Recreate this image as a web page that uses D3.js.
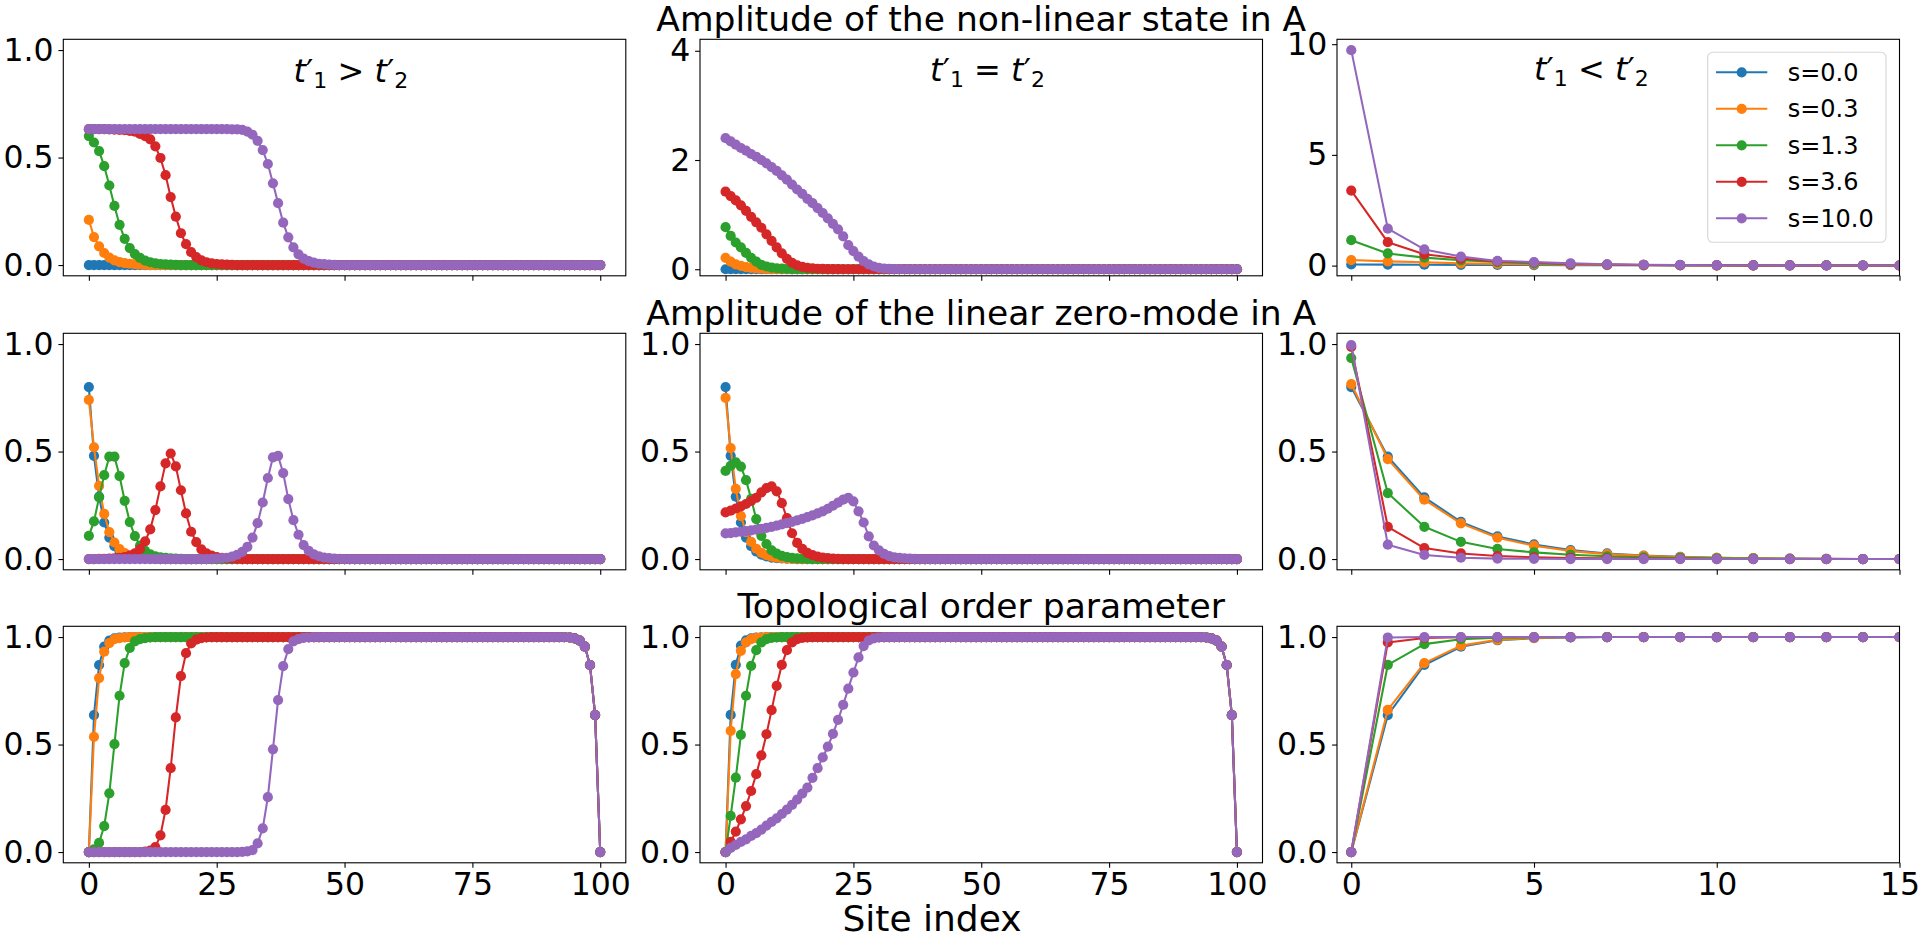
<!DOCTYPE html>
<html>
<head>
<meta charset="utf-8">
<script src="https://d3js.org/d3.v7.min.js"></script>
<style>
  body { margin: 0; background: #fff; }
  text { font-family: 'DejaVu Sans', sans-serif; fill: #000; }
</style>
</head>
<body>
<script>
var colors = ['#1f77b4', '#ff7f0e', '#2ca02c', '#d62728', '#9467bd'];
var seriesLabels = ['s=0.0', 's=0.3', 's=1.3', 's=3.6', 's=10.0'];
var rowTitles = ['Amplitude of the non-linear state in A', 'Amplitude of the linear zero-mode in A', 'Topological order parameter'];
var xLabel = 'Site index';
var notes = ['>', '=', '<'];

// site index of the chain, and the first sites shown in the zoomed column
var sites = d3.range(101);
var sitesZoom = d3.range(17);

var xTicksLong = [0, 25, 50, 75, 100];
var xTicksZoom = [0, 5, 10, 15];
var yTicksUnit = [0, 0.5, 1.0];
var yTicksEqual = [0, 2, 4];
var yTicksLess = [0, 5, 10];

/* ===== non-linear state, t'1 > t'2 ===== */
var nlGt0 = [
0,0,0,0,0,0,0,0,0,0,
0,0,0,0,0,0,0,0,0,0,
0,0,0,0,0,0,0,0,0,0,
0,0,0,0,0,0,0,0,0,0,
0,0,0,0,0,0,0,0,0,0,
0,0,0,0,0,0,0,0,0,0,
0,0,0,0,0,0,0,0,0,0,
0,0,0,0,0,0,0,0,0,0,
0,0,0,0,0,0,0,0,0,0,
0,0,0,0,0,0,0,0,0,0,
0];
var nlGt1 = [
0.21,0.13,0.087,0.056,0.035,0.022,0.014,0.009,0.006,0.004,
0.002,0.001,0,0,0,0,0,0,0,0,
0,0,0,0,0,0,0,0,0,0,
0,0,0,0,0,0,0,0,0,0,
0,0,0,0,0,0,0,0,0,0,
0,0,0,0,0,0,0,0,0,0,
0,0,0,0,0,0,0,0,0,0,
0,0,0,0,0,0,0,0,0,0,
0,0,0,0,0,0,0,0,0,0,
0,0,0,0,0,0,0,0,0,0,
0];
var nlGt2 = [
0.60,0.57,0.53,0.46,0.37,0.275,0.187,0.122,0.079,0.051,
0.033,0.021,0.013,0.008,0.005,0.003,0.002,0.001,0,0,
0,0,0,0,0,0,0,0,0,0,
0,0,0,0,0,0,0,0,0,0,
0,0,0,0,0,0,0,0,0,0,
0,0,0,0,0,0,0,0,0,0,
0,0,0,0,0,0,0,0,0,0,
0,0,0,0,0,0,0,0,0,0,
0,0,0,0,0,0,0,0,0,0,
0,0,0,0,0,0,0,0,0,0,
0];
var nlGt3 = [
0.632,0.632,0.632,0.632,0.631,0.63,0.629,0.627,0.624,0.62,
0.61,0.60,0.585,0.552,0.498,0.418,0.316,0.225,0.148,0.097,
0.06,0.037,0.022,0.013,0.008,0.005,0.003,0.002,0.001,0,
0,0,0,0,0,0,0,0,0,0,
0,0,0,0,0,0,0,0,0,0,
0,0,0,0,0,0,0,0,0,0,
0,0,0,0,0,0,0,0,0,0,
0,0,0,0,0,0,0,0,0,0,
0,0,0,0,0,0,0,0,0,0,
0,0,0,0,0,0,0,0,0,0,
0];
var nlGt4 = [
0.632,0.632,0.632,0.632,0.632,0.632,0.632,0.632,0.632,0.632,
0.632,0.632,0.632,0.632,0.632,0.632,0.632,0.632,0.632,0.632,
0.632,0.632,0.632,0.632,0.632,0.632,0.632,0.632,0.631,0.631,
0.629,0.621,0.606,0.578,0.535,0.47,0.38,0.288,0.197,0.129,
0.082,0.05,0.03,0.018,0.011,0.006,0.004,0.002,0.001,0,
0,0,0,0,0,0,0,0,0,0,
0,0,0,0,0,0,0,0,0,0,
0,0,0,0,0,0,0,0,0,0,
0,0,0,0,0,0,0,0,0,0,
0,0,0,0,0,0,0,0,0,0,
0];

/* ===== linear zero-mode, t'1 > t'2 ===== */
var zmGt0 = [
0.80,0.48,0.29,0.17,0.10,0.06,0.035,0.021,0.012,0.007,
0.004,0.003,0.002,0.001,0,0,0,0,0,0,
0,0,0,0,0,0,0,0,0,0,
0,0,0,0,0,0,0,0,0,0,
0,0,0,0,0,0,0,0,0,0,
0,0,0,0,0,0,0,0,0,0,
0,0,0,0,0,0,0,0,0,0,
0,0,0,0,0,0,0,0,0,0,
0,0,0,0,0,0,0,0,0,0,
0,0,0,0,0,0,0,0,0,0,
0];
var zmGt1 = [
0.74,0.52,0.34,0.21,0.125,0.077,0.046,0.028,0.017,0.01,
0.006,0.004,0.002,0.001,0,0,0,0,0,0,
0,0,0,0,0,0,0,0,0,0,
0,0,0,0,0,0,0,0,0,0,
0,0,0,0,0,0,0,0,0,0,
0,0,0,0,0,0,0,0,0,0,
0,0,0,0,0,0,0,0,0,0,
0,0,0,0,0,0,0,0,0,0,
0,0,0,0,0,0,0,0,0,0,
0,0,0,0,0,0,0,0,0,0,
0];
var zmGt2 = [
0.108,0.175,0.287,0.39,0.476,0.476,0.386,0.271,0.172,0.107,
0.062,0.038,0.022,0.013,0.008,0.005,0.003,0.002,0.001,0,
0,0,0,0,0,0,0,0,0,0,
0,0,0,0,0,0,0,0,0,0,
0,0,0,0,0,0,0,0,0,0,
0,0,0,0,0,0,0,0,0,0,
0,0,0,0,0,0,0,0,0,0,
0,0,0,0,0,0,0,0,0,0,
0,0,0,0,0,0,0,0,0,0,
0,0,0,0,0,0,0,0,0,0,
0];
var zmGt3 = [
0,0,0.001,0.001,0.002,0.003,0.005,0.009,0.016,0.027,
0.046,0.082,0.138,0.228,0.338,0.445,0.491,0.431,0.32,0.212,
0.127,0.079,0.045,0.027,0.016,0.009,0.005,0.003,0.002,0.001,
0,0,0,0,0,0,0,0,0,0,
0,0,0,0,0,0,0,0,0,0,
0,0,0,0,0,0,0,0,0,0,
0,0,0,0,0,0,0,0,0,0,
0,0,0,0,0,0,0,0,0,0,
0,0,0,0,0,0,0,0,0,0,
0,0,0,0,0,0,0,0,0,0,
0];
var zmGt4 = [
0,0,0,0,0,0,0,0,0,0,
0,0,0,0,0,0,0,0,0,0,
0,0,0,0,0.001,0.002,0.004,0.006,0.011,0.02,
0.033,0.057,0.1,0.167,0.263,0.377,0.473,0.48,0.4,0.279,
0.181,0.113,0.065,0.038,0.022,0.013,0.007,0.004,0.002,0.001,
0,0,0,0,0,0,0,0,0,0,
0,0,0,0,0,0,0,0,0,0,
0,0,0,0,0,0,0,0,0,0,
0,0,0,0,0,0,0,0,0,0,
0,0,0,0,0,0,0,0,0,0,
0];

/* ===== topological order parameter, t'1 > t'2 ===== */
var toGt0 = [
0,0.637,0.87,0.955,0.983,0.994,0.998,0.999,1,1,
1,1,1,1,1,1,1,1,1,1,
1,1,1,1,1,1,1,1,1,1,
1,1,1,1,1,1,1,1,1,1,
1,1,1,1,1,1,1,1,1,1,
1,1,1,1,1,1,1,1,1,1,
1,1,1,1,1,1,1,1,1,1,
1,1,1,1,1,1,1,1,1,1,
1,1,1,1,1,1,1,1,1,1,
1,1,1,1,0.998,0.994,0.983,0.955,0.87,0.637,
0];
var toGt1 = [
0,0.536,0.809,0.932,0.972,0.99,0.995,0.998,1,1,
1,1,1,1,1,1,1,1,1,1,
1,1,1,1,1,1,1,1,1,1,
1,1,1,1,1,1,1,1,1,1,
1,1,1,1,1,1,1,1,1,1,
1,1,1,1,1,1,1,1,1,1,
1,1,1,1,1,1,1,1,1,1,
1,1,1,1,1,1,1,1,1,1,
1,1,1,1,1,1,1,1,1,1,
1,1,1,1,0.998,0.994,0.983,0.955,0.87,0.637,
0];
var toGt2 = [
0,0.013,0.043,0.121,0.273,0.502,0.727,0.879,0.949,0.98,
0.99,0.995,0.998,1,1,1,1,1,1,1,
1,1,1,1,1,1,1,1,1,1,
1,1,1,1,1,1,1,1,1,1,
1,1,1,1,1,1,1,1,1,1,
1,1,1,1,1,1,1,1,1,1,
1,1,1,1,1,1,1,1,1,1,
1,1,1,1,1,1,1,1,1,1,
1,1,1,1,1,1,1,1,1,1,
1,1,1,1,0.998,0.994,0.983,0.955,0.87,0.637,
0];
var toGt3 = [
0,0,0,0,0,0,0,0,0,0,
0,0.002,0.007,0.023,0.078,0.196,0.39,0.626,0.818,0.925,
0.97,0.988,0.995,0.998,1,1,1,1,1,1,
1,1,1,1,1,1,1,1,1,1,
1,1,1,1,1,1,1,1,1,1,
1,1,1,1,1,1,1,1,1,1,
1,1,1,1,1,1,1,1,1,1,
1,1,1,1,1,1,1,1,1,1,
1,1,1,1,1,1,1,1,1,1,
1,1,1,1,0.998,0.994,0.983,0.955,0.87,0.637,
0];
var toGt4 = [
0,0,0,0,0,0,0,0,0,0,
0,0,0,0,0,0,0,0,0,0,
0,0,0,0,0,0,0,0,0,0,
0.001,0.003,0.009,0.04,0.11,0.255,0.478,0.707,0.865,0.944,
0.98,0.99,0.996,0.998,1,1,1,1,1,1,
1,1,1,1,1,1,1,1,1,1,
1,1,1,1,1,1,1,1,1,1,
1,1,1,1,1,1,1,1,1,1,
1,1,1,1,1,1,1,1,1,1,
1,1,1,1,0.998,0.994,0.983,0.955,0.87,0.637,
0];

/* ===== non-linear state, t'1 = t'2 ===== */
var nlEq0 = [
0,0,0,0,0,0,0,0,0,0,
0,0,0,0,0,0,0,0,0,0,
0,0,0,0,0,0,0,0,0,0,
0,0,0,0,0,0,0,0,0,0,
0,0,0,0,0,0,0,0,0,0,
0,0,0,0,0,0,0,0,0,0,
0,0,0,0,0,0,0,0,0,0,
0,0,0,0,0,0,0,0,0,0,
0,0,0,0,0,0,0,0,0,0,
0,0,0,0,0,0,0,0,0,0,
0];
var nlEq1 = [
0.21,0.14,0.09,0.06,0.04,0.025,0.015,0.01,0.006,0.004,
0.002,0.001,0,0,0,0,0,0,0,0,
0,0,0,0,0,0,0,0,0,0,
0,0,0,0,0,0,0,0,0,0,
0,0,0,0,0,0,0,0,0,0,
0,0,0,0,0,0,0,0,0,0,
0,0,0,0,0,0,0,0,0,0,
0,0,0,0,0,0,0,0,0,0,
0,0,0,0,0,0,0,0,0,0,
0,0,0,0,0,0,0,0,0,0,
0];
var nlEq2 = [
0.77,0.61,0.49,0.40,0.30,0.21,0.14,0.08,0.05,0.03,
0.018,0.01,0.006,0.003,0.001,0,0,0,0,0,
0,0,0,0,0,0,0,0,0,0,
0,0,0,0,0,0,0,0,0,0,
0,0,0,0,0,0,0,0,0,0,
0,0,0,0,0,0,0,0,0,0,
0,0,0,0,0,0,0,0,0,0,
0,0,0,0,0,0,0,0,0,0,
0,0,0,0,0,0,0,0,0,0,
0,0,0,0,0,0,0,0,0,0,
0];
var nlEq3 = [
1.42,1.34,1.26,1.17,1.07,0.96,0.86,0.76,0.64,0.52,
0.40,0.29,0.19,0.115,0.07,0.042,0.025,0.015,0.009,0.005,
0.003,0.002,0.001,0,0,0,0,0,0,0,
0,0,0,0,0,0,0,0,0,0,
0,0,0,0,0,0,0,0,0,0,
0,0,0,0,0,0,0,0,0,0,
0,0,0,0,0,0,0,0,0,0,
0,0,0,0,0,0,0,0,0,0,
0,0,0,0,0,0,0,0,0,0,
0,0,0,0,0,0,0,0,0,0,
0];
var nlEq4 = [
2.40,2.34,2.28,2.22,2.17,2.11,2.06,2.00,1.94,1.87,
1.80,1.72,1.64,1.55,1.46,1.38,1.29,1.21,1.12,1.03,
0.93,0.83,0.73,0.60,0.44,0.33,0.23,0.15,0.09,0.05,
0.025,0.012,0.006,0.003,0.001,0,0,0,0,0,
0,0,0,0,0,0,0,0,0,0,
0,0,0,0,0,0,0,0,0,0,
0,0,0,0,0,0,0,0,0,0,
0,0,0,0,0,0,0,0,0,0,
0,0,0,0,0,0,0,0,0,0,
0,0,0,0,0,0,0,0,0,0,
0];

/* ===== linear zero-mode, t'1 = t'2 ===== */
var zmEq0 = [
0.80,0.48,0.29,0.17,0.10,0.06,0.035,0.021,0.012,0.007,
0.004,0.003,0.002,0.001,0,0,0,0,0,0,
0,0,0,0,0,0,0,0,0,0,
0,0,0,0,0,0,0,0,0,0,
0,0,0,0,0,0,0,0,0,0,
0,0,0,0,0,0,0,0,0,0,
0,0,0,0,0,0,0,0,0,0,
0,0,0,0,0,0,0,0,0,0,
0,0,0,0,0,0,0,0,0,0,
0,0,0,0,0,0,0,0,0,0,
0];
var zmEq1 = [
0.75,0.516,0.326,0.2,0.125,0.08,0.048,0.029,0.018,0.011,
0.006,0.004,0.002,0.001,0,0,0,0,0,0,
0,0,0,0,0,0,0,0,0,0,
0,0,0,0,0,0,0,0,0,0,
0,0,0,0,0,0,0,0,0,0,
0,0,0,0,0,0,0,0,0,0,
0,0,0,0,0,0,0,0,0,0,
0,0,0,0,0,0,0,0,0,0,
0,0,0,0,0,0,0,0,0,0,
0,0,0,0,0,0,0,0,0,0,
0];
var zmEq2 = [
0.41,0.434,0.45,0.43,0.367,0.28,0.186,0.108,0.07,0.04,
0.025,0.015,0.009,0.005,0.003,0.002,0.001,0,0,0,
0,0,0,0,0,0,0,0,0,0,
0,0,0,0,0,0,0,0,0,0,
0,0,0,0,0,0,0,0,0,0,
0,0,0,0,0,0,0,0,0,0,
0,0,0,0,0,0,0,0,0,0,
0,0,0,0,0,0,0,0,0,0,
0,0,0,0,0,0,0,0,0,0,
0,0,0,0,0,0,0,0,0,0,
0];
var zmEq3 = [
0.217,0.225,0.235,0.245,0.256,0.27,0.285,0.31,0.33,0.338,
0.315,0.26,0.19,0.12,0.075,0.047,0.029,0.018,0.011,0.007,
0.004,0.002,0.001,0,0,0,0,0,0,0,
0,0,0,0,0,0,0,0,0,0,
0,0,0,0,0,0,0,0,0,0,
0,0,0,0,0,0,0,0,0,0,
0,0,0,0,0,0,0,0,0,0,
0,0,0,0,0,0,0,0,0,0,
0,0,0,0,0,0,0,0,0,0,
0,0,0,0,0,0,0,0,0,0,
0];
var zmEq4 = [
0.119,0.121,0.124,0.127,0.13,0.133,0.137,0.141,0.145,0.15,
0.155,0.161,0.167,0.173,0.18,0.187,0.195,0.203,0.212,0.222,
0.234,0.248,0.262,0.276,0.285,0.268,0.222,0.17,0.105,0.063,
0.04,0.024,0.014,0.008,0.005,0.003,0.002,0.001,0,0,
0,0,0,0,0,0,0,0,0,0,
0,0,0,0,0,0,0,0,0,0,
0,0,0,0,0,0,0,0,0,0,
0,0,0,0,0,0,0,0,0,0,
0,0,0,0,0,0,0,0,0,0,
0,0,0,0,0,0,0,0,0,0,
0];

/* ===== topological order parameter, t'1 = t'2 ===== */
var toEq0 = [
0,0.638,0.871,0.96,0.985,0.994,0.998,0.999,1,1,
1,1,1,1,1,1,1,1,1,1,
1,1,1,1,1,1,1,1,1,1,
1,1,1,1,1,1,1,1,1,1,
1,1,1,1,1,1,1,1,1,1,
1,1,1,1,1,1,1,1,1,1,
1,1,1,1,1,1,1,1,1,1,
1,1,1,1,1,1,1,1,1,1,
1,1,1,1,1,1,1,1,1,1,
1,1,1,1,0.998,0.994,0.983,0.955,0.87,0.637,
0];
var toEq1 = [
0,0.564,0.828,0.936,0.975,0.99,0.996,0.998,1,1,
1,1,1,1,1,1,1,1,1,1,
1,1,1,1,1,1,1,1,1,1,
1,1,1,1,1,1,1,1,1,1,
1,1,1,1,1,1,1,1,1,1,
1,1,1,1,1,1,1,1,1,1,
1,1,1,1,1,1,1,1,1,1,
1,1,1,1,1,1,1,1,1,1,
1,1,1,1,1,1,1,1,1,1,
1,1,1,1,0.998,0.994,0.983,0.955,0.87,0.637,
0];
var toEq2 = [
0,0.168,0.346,0.545,0.727,0.866,0.939,0.975,0.99,0.996,
0.998,1,1,1,1,1,1,1,1,1,
1,1,1,1,1,1,1,1,1,1,
1,1,1,1,1,1,1,1,1,1,
1,1,1,1,1,1,1,1,1,1,
1,1,1,1,1,1,1,1,1,1,
1,1,1,1,1,1,1,1,1,1,
1,1,1,1,1,1,1,1,1,1,
1,1,1,1,1,1,1,1,1,1,
1,1,1,1,0.998,0.994,0.983,0.955,0.87,0.637,
0];
var toEq3 = [
0,0.047,0.095,0.152,0.214,0.284,0.362,0.45,0.548,0.66,
0.773,0.871,0.939,0.975,0.99,0.996,0.998,1,1,1,
1,1,1,1,1,1,1,1,1,1,
1,1,1,1,1,1,1,1,1,1,
1,1,1,1,1,1,1,1,1,1,
1,1,1,1,1,1,1,1,1,1,
1,1,1,1,1,1,1,1,1,1,
1,1,1,1,1,1,1,1,1,1,
1,1,1,1,1,1,1,1,1,1,
1,1,1,1,0.998,0.994,0.983,0.955,0.87,0.637,
0];
var toEq4 = [
0,0.019,0.033,0.047,0.059,0.075,0.088,0.104,0.123,0.14,
0.157,0.177,0.197,0.219,0.244,0.272,0.30,0.345,0.39,0.44,
0.49,0.55,0.615,0.685,0.76,0.835,0.905,0.958,0.984,0.994,
0.998,1,1,1,1,1,1,1,1,1,
1,1,1,1,1,1,1,1,1,1,
1,1,1,1,1,1,1,1,1,1,
1,1,1,1,1,1,1,1,1,1,
1,1,1,1,1,1,1,1,1,1,
1,1,1,1,1,1,1,1,1,1,
1,1,1,1,0.998,0.994,0.983,0.955,0.87,0.637,
0];

/* ===== t'1 < t'2 (first 17 sites) ===== */
var nlLt0 = [0.05,0.045,0.04,0.035,0.03,0.025,0.02,0.018,0.015,0.012,0.01,0.009,0.008,0.007,0.006,0.005,0.004];
var nlLt1 = [0.25,0.19,0.15,0.1,0.08,0.06,0.04,0.03,0.02,0.016,0.012,0.01,0.008,0.007,0.006,0.005,0.004];
var nlLt2 = [1.15,0.55,0.36,0.24,0.16,0.1,0.07,0.05,0.03,0.02,0.015,0.012,0.01,0.008,0.006,0.005,0.004];
var nlLt3 = [3.39,1.06,0.51,0.32,0.19,0.14,0.075,0.05,0.03,0.02,0.015,0.01,0.008,0.006,0.005,0.004,0.003];
var nlLt4 = [9.73,1.67,0.73,0.41,0.21,0.16,0.1,0.06,0.04,0.03,0.02,0.015,0.01,0.008,0.006,0.005,0.004];

var zmLt0 = [0.80,0.476,0.287,0.173,0.105,0.068,0.042,0.026,0.016,0.01,0.006,0.004,0.002,0.001,0,0,0];
var zmLt1 = [0.814,0.465,0.276,0.166,0.099,0.062,0.037,0.023,0.015,0.009,0.006,0.004,0.002,0.001,0,0,0];
var zmLt2 = [0.935,0.307,0.15,0.08,0.047,0.031,0.02,0.013,0.008,0.005,0.003,0.002,0.001,0,0,0,0];
var zmLt3 = [0.987,0.15,0.051,0.026,0.014,0.008,0.005,0.003,0.002,0.001,0,0,0,0,0,0,0];
var zmLt4 = [0.995,0.067,0.019,0.006,0.002,0.001,0,0,0,0,0,0,0,0,0,0,0];

var toLt0 = [0,0.637,0.87,0.955,0.985,0.995,0.998,1,1,1,1,1,1,1,1,1,1];
var toLt1 = [0,0.661,0.879,0.96,0.987,0.996,0.999,1,1,1,1,1,1,1,1,1,1];
var toLt2 = [0,0.871,0.967,0.99,0.997,0.999,1,1,1,1,1,1,1,1,1,1,1];
var toLt3 = [0,0.975,0.996,0.999,1,1,1,1,1,1,1,1,1,1,1,1,1];
var toLt4 = [0,0.998,1,1,1,1,1,1,1,1,1,1,1,1,1,1,1];

/* ===== layout ===== */
var W = 1920;
var H = 940;
var colLeft = [63.3, 700, 1337];
var rowTop = [39.3, 333.3, 626.3];
var pw = 562.5;
var ph = 236.5;
var tickFont = 31.5;
var titleFont = 34.5;
var markerR = 5.1;

var panels = [
  { row: 0, col: 0, x: sites, series: [nlGt0, nlGt1, nlGt2, nlGt3, nlGt4], yDomain: [-0.05, 1.05], yTicks: yTicksUnit, yFmt: '.1f', note: [40, 0.85] },
  { row: 0, col: 1, x: sites, series: [nlEq0, nlEq1, nlEq2, nlEq3, nlEq4], yDomain: [-0.12, 4.21], yTicks: yTicksEqual, yFmt: 'd', note: [40, 3.45] },
  { row: 0, col: 2, x: sitesZoom, series: [nlLt0, nlLt1, nlLt2, nlLt3, nlLt4], yDomain: [-0.46, 10.22], yTicks: yTicksLess, yFmt: 'd', note: [5, 8.4] },
  { row: 1, col: 0, x: sites, series: [zmGt0, zmGt1, zmGt2, zmGt3, zmGt4], yDomain: [-0.05, 1.05], yTicks: yTicksUnit, yFmt: '.1f' },
  { row: 1, col: 1, x: sites, series: [zmEq0, zmEq1, zmEq2, zmEq3, zmEq4], yDomain: [-0.05, 1.05], yTicks: yTicksUnit, yFmt: '.1f' },
  { row: 1, col: 2, x: sitesZoom, series: [zmLt0, zmLt1, zmLt2, zmLt3, zmLt4], yDomain: [-0.05, 1.05], yTicks: yTicksUnit, yFmt: '.1f' },
  { row: 2, col: 0, x: sites, series: [toGt0, toGt1, toGt2, toGt3, toGt4], yDomain: [-0.05, 1.05], yTicks: yTicksUnit, yFmt: '.1f' },
  { row: 2, col: 1, x: sites, series: [toEq0, toEq1, toEq2, toEq3, toEq4], yDomain: [-0.05, 1.05], yTicks: yTicksUnit, yFmt: '.1f' },
  { row: 2, col: 2, x: sitesZoom, series: [toLt0, toLt1, toLt2, toLt3, toLt4], yDomain: [-0.05, 1.05], yTicks: yTicksUnit, yFmt: '.1f' }
];

var svg = d3.select('body')
  .append('svg')
  .attr('width', W)
  .attr('height', H);

svg.append('rect')
  .attr('width', W)
  .attr('height', H)
  .attr('fill', '#fff');

/* ===== panels ===== */

panels.forEach(function(p, pi) {
  var zoomed = p.col === 2;
  var g = svg.append('g')
    .attr('transform', 'translate(' + colLeft[p.col] + ',' + rowTop[p.row] + ')');

  var xScale = d3.scaleLinear()
    .domain(zoomed ? [-0.39, 15] : [-5, 105])
    .range([0, pw]);

  var yScale = d3.scaleLinear()
    .domain(p.yDomain)
    .range([ph, 0]);

  g.append('clipPath')
    .attr('id', 'clip' + pi)
    .append('rect')
    .attr('width', pw)
    .attr('height', ph);

  var plot = g.append('g').attr('clip-path', 'url(#clip' + pi + ')');

  var line = d3.line()
    .x(function(d) { return xScale(d[0]); })
    .y(function(d) { return yScale(d[1]); });

  p.series.forEach(function(vals, k) {
    var pts = vals.map(function(v, i) { return [p.x[i], v]; });
    plot.append('path')
      .datum(pts)
      .attr('d', line)
      .attr('fill', 'none')
      .attr('stroke', colors[k])
      .attr('stroke-width', 2.08)
      .attr('stroke-linejoin', 'round');
    plot.selectAll('circle.s' + k)
      .data(pts)
      .enter()
      .append('circle')
      .attr('class', 's' + k)
      .attr('cx', function(d) { return xScale(d[0]); })
      .attr('cy', function(d) { return yScale(d[1]); })
      .attr('r', markerR)
      .attr('fill', colors[k]);
  });

  /* ===== axes ===== */
  var xAxis = d3.axisBottom(xScale)
    .tickValues(zoomed ? xTicksZoom : xTicksLong)
    .tickSize(4.9)
    .tickPadding(4.9)
    .tickFormat(p.row === 2 ? d3.format('d') : function() { return ''; });

  var yAxis = d3.axisLeft(yScale)
    .tickValues(p.yTicks)
    .tickSize(4.9)
    .tickPadding(4.9)
    .tickFormat(d3.format(p.yFmt));

  [g.append('g').attr('transform', 'translate(0,' + ph + ')').call(xAxis),
   g.append('g').call(yAxis)].forEach(function(ax) {
    ax.select('.domain').remove();
    ax.selectAll('line').attr('stroke', '#000').attr('stroke-width', 1.1);
    ax.selectAll('text')
      .attr('font-size', tickFont)
      .attr('font-family', "'DejaVu Sans', sans-serif")
      .attr('fill', '#000');
  });

  g.append('rect')
    .attr('width', pw)
    .attr('height', ph)
    .attr('fill', 'none')
    .attr('stroke', '#000')
    .attr('stroke-width', 1.1);

  /* ===== regime note ===== */
  if (p.note) {
    var t = g.append('text')
      .attr('x', xScale(p.note[0]))
      .attr('y', yScale(p.note[1]))
      .attr('font-size', 32);
    t.append('tspan').attr('font-style', 'italic').text('t');
    t.append('tspan').text('\u2032');
    t.append('tspan').attr('font-size', 22).attr('dy', 6).text('1');
    t.append('tspan').attr('dy', -6).text(' ' + notes[p.col] + ' ');
    t.append('tspan').attr('font-style', 'italic').text('t');
    t.append('tspan').text('\u2032');
    t.append('tspan').attr('font-size', 22).attr('dy', 6).text('2');
  }
});

/* ===== row titles and x label ===== */

rowTitles.forEach(function(title, r) {
  svg.append('text')
    .attr('x', colLeft[1] + pw / 2)
    .attr('y', rowTop[r] - 8.5)
    .attr('text-anchor', 'middle')
    .attr('font-size', titleFont)
    .text(title);
});

svg.append('text')
  .attr('x', 932)
  .attr('y', 931)
  .attr('text-anchor', 'middle')
  .attr('font-size', 36)
  .text(xLabel);

/* ===== legend ===== */

var legend = svg.append('g')
  .attr('transform', 'translate(1707.7,52.3)');

legend.append('rect')
  .attr('width', 178.3)
  .attr('height', 190)
  .attr('rx', 5)
  .attr('fill', '#fff')
  .attr('fill-opacity', 0.8)
  .attr('stroke', '#d6d6d6')
  .attr('stroke-width', 1.1);

var items = legend.selectAll('g.item')
  .data(seriesLabels)
  .enter()
  .append('g')
  .attr('class', 'item')
  .attr('transform', function(d, i) { return 'translate(0,' + (20 + i * 36.5) + ')'; });

items.append('line')
  .attr('x1', 8.3)
  .attr('x2', 59.6)
  .attr('stroke', function(d, i) { return colors[i]; })
  .attr('stroke-width', 2.08);

items.append('circle')
  .attr('cx', 34)
  .attr('r', markerR)
  .attr('fill', function(d, i) { return colors[i]; });

items.append('text')
  .attr('x', 80)
  .attr('dy', '0.36em')
  .attr('font-size', 24)
  .text(function(d) { return d; });
</script>
</body>
</html>
